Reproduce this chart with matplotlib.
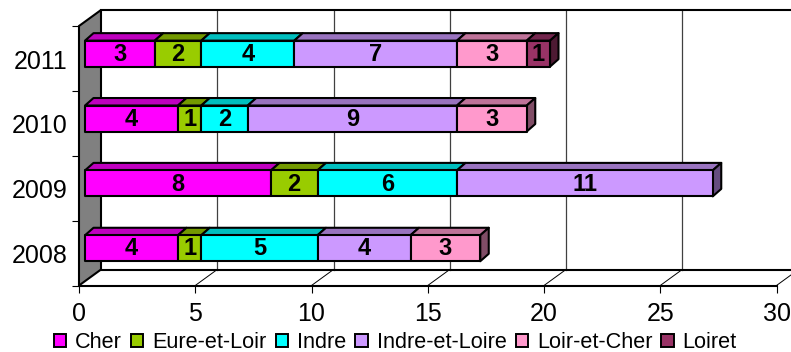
import matplotlib
matplotlib.use('Agg')
import matplotlib.pyplot as plt
from matplotlib.patches import Polygon, Patch

plt.rcParams['font.family'] = ['Liberation Sans', 'DejaVu Sans']

years = ['2008', '2009', '2010', '2011']
departments = ['Cher', 'Eure-et-Loir', 'Indre', 'Indre-et-Loire', 'Loir-et-Cher', 'Loiret']
cher = [4, 8, 4, 3]
eure = [1, 2, 1, 2]
indre = [5, 6, 2, 4]
indre_loire = [4, 11, 9, 7]
loir_cher = [3, 0, 3, 3]
loiret = [0, 0, 0, 1]
series = [cher, eure, indre, indre_loire, loir_cher, loiret]

colors = ['#FF00FF', '#99CC00', '#00FFFF', '#CC99FF', '#FF99CC', '#993366']
tops = ['#BF00BF', '#739900', '#00BFBF', '#9973BF', '#BF7399', '#73264D']
sides = ['#800080', '#4D6600', '#008080', '#664D80', '#804D66', '#4D1A33']

# pixel sizes of the 3d look converted to data units
PX_X = 23.25
PX_Y = 64.9
wall_dx = 22 / PX_X
wall_dy = 16 / PX_Y
bar_dx = 8.5 / PX_X
bar_dy = 7.5 / PX_Y
bar_start = 6 / PX_X
bar_shift = 4.8 / PX_Y
bar_h = 26 / PX_Y
lw = 1.5

fig = plt.figure(figsize=(7.91, 3.52), dpi=100)
ax = fig.add_axes([79 / 791, (352 - 285.5) / 352, 697.5 / 791, 259.5 / 352])
ax.set_xlim(0, 30)
ax.set_ylim(0, 4)

# wall, floor and back grid
ax.add_patch(Polygon([(0, 0), (wall_dx, wall_dy), (wall_dx, 4 + wall_dy), (0, 4)],
                     fc='#808080', ec='black', lw=lw, clip_on=False, zorder=2))
ax.plot([wall_dx, 30 + wall_dx], [4 + wall_dy, 4 + wall_dy], color='black', lw=lw, clip_on=False, zorder=2)
ax.plot([wall_dx, 30 + wall_dx], [wall_dy, wall_dy], color='black', lw=lw, clip_on=False, zorder=2)
for v in range(5, 31, 5):
    ax.plot([v + wall_dx, v + wall_dx], [wall_dy, 4 + wall_dy], color='#404040', lw=0.9, clip_on=False, zorder=1)
    ax.plot([v, v + wall_dx], [0, wall_dy], color='black', lw=0.7, clip_on=False, zorder=1)

# stacked bars
for i, year in enumerate(years):
    y0 = i + 0.5 + bar_shift - bar_h / 2
    y1 = y0 + bar_h
    left = bar_start
    last = max(k for k, s in enumerate(series) if s[i] > 0)
    for k, s in enumerate(series):
        v = s[i]
        if v == 0:
            continue
        right = left + v
        ax.add_patch(Polygon([(left, y1), (left + bar_dx, y1 + bar_dy), (right + bar_dx, y1 + bar_dy), (right, y1)],
                             fc=tops[k], ec='black', lw=lw, clip_on=False, zorder=3, joinstyle='round'))
        if k == last:
            ax.add_patch(Polygon([(right, y0), (right + bar_dx, y0 + bar_dy), (right + bar_dx, y1 + bar_dy), (right, y1)],
                                 fc=sides[k], ec='black', lw=lw, clip_on=False, zorder=3, joinstyle='round'))
        ax.add_patch(Polygon([(left, y0), (right, y0), (right, y1), (left, y1)],
                             fc=colors[k], ec='black', lw=lw, clip_on=False, zorder=4, joinstyle='round'))
        ax.text(left + v / 2, (y0 + y1) / 2 - 0.01, str(v), ha='center', va='center',
                fontsize=17, fontweight='bold', color='black', zorder=5)
        left = right

# axes, ticks and labels
for name in ['top', 'right']:
    ax.spines[name].set_visible(False)
ax.spines['left'].set_visible(False)
ax.spines['bottom'].set_linewidth(lw)
ax.spines['bottom'].set_zorder(2)
ax.set_xticks(range(0, 31, 5))
ax.tick_params(axis='x', length=5, width=0.8, labelsize=18, pad=7, colors='black')
ax.set_yticks(range(5))
ax.set_yticklabels([])
ax.tick_params(axis='y', which='major', length=5, width=0.8)
ax.set_yticks([i + 0.49 for i in range(4)], minor=True)
ax.set_yticklabels(years, minor=True, fontsize=18)
ax.tick_params(axis='y', which='minor', length=0, pad=8)
ax.patch.set_visible(False)

handles = [Patch(fc=c, ec='black', lw=1.4) for c in colors]
fig.legend(handles, departments, ncol=6, loc='lower left', bbox_to_anchor=(54 / 791, -1 / 352),
           frameon=False, fontsize=15.6, handlelength=0.56, handleheight=0.56,
           handletextpad=0.42, columnspacing=0.42, borderaxespad=0, borderpad=0)

fig.savefig('out.png', dpi=100)
